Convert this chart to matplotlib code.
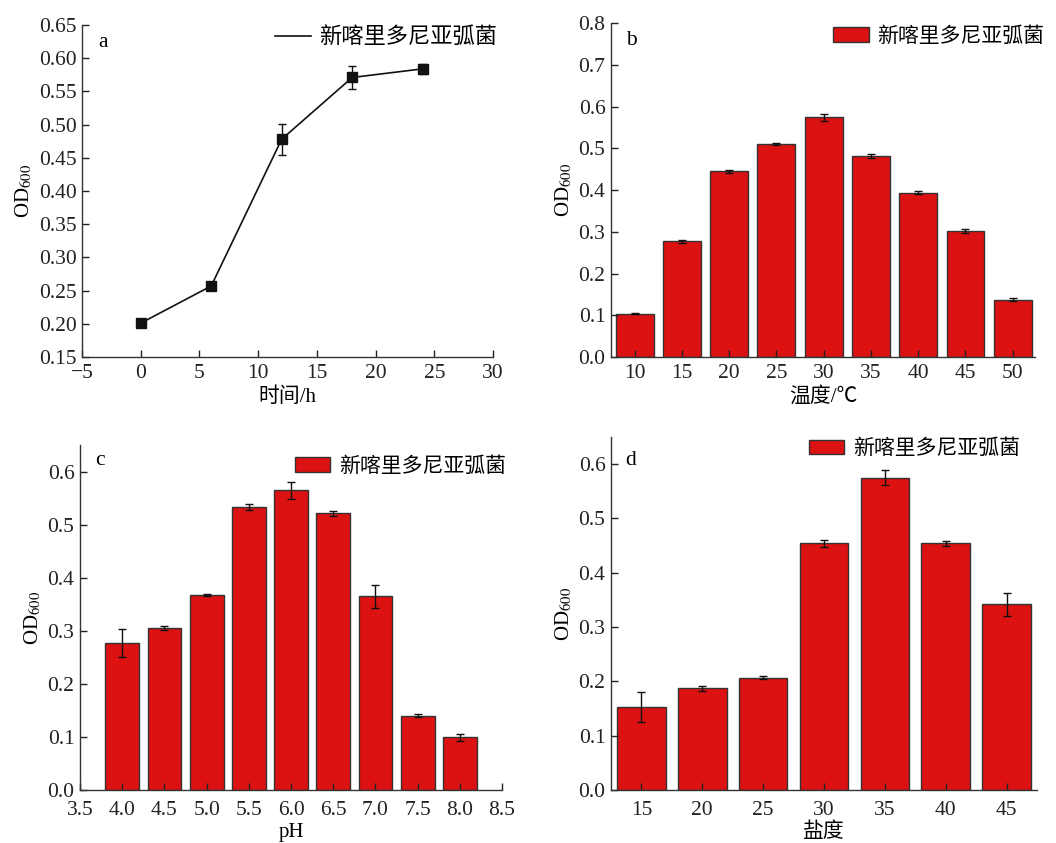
import matplotlib.pyplot as plt
import numpy as np

plt.rcParams['font.family'] = ['Liberation Serif', 'Noto Sans CJK SC']
plt.rcParams['mathtext.fontset'] = 'stix'
plt.rcParams['axes.unicode_minus'] = True

# Data
label = '新喀里多尼亚弧菌'

# a: growth curve
time_h = [0, 6, 12, 18, 24]
od_time = [0.201, 0.257, 0.478, 0.571, 0.584]
err_time = [0.005, 0.006, 0.023, 0.017, 0.008]

# b: temperature
temps = ['10', '15', '20', '25', '30', '35', '40', '45', '50']
od_temp = [0.104, 0.277, 0.445, 0.510, 0.574, 0.482, 0.394, 0.302, 0.137]
err_temp = [0.002, 0.003, 0.004, 0.003, 0.008, 0.005, 0.003, 0.005, 0.004]

# c: pH
ph = [4.0, 4.5, 5.0, 5.5, 6.0, 6.5, 7.0, 7.5, 8.0]
od_ph = [0.277, 0.305, 0.367, 0.533, 0.565, 0.521, 0.365, 0.140, 0.099]
err_ph = [0.026, 0.004, 0.002, 0.006, 0.016, 0.004, 0.022, 0.003, 0.006]

# d: salinity
salt = ['15', '20', '25', '30', '35', '40', '45']
od_salt = [0.153, 0.187, 0.207, 0.454, 0.575, 0.454, 0.342]
err_salt = [0.027, 0.004, 0.002, 0.007, 0.014, 0.004, 0.021]

bar_color = '#DC1111'
edge_color = '#333333'
fs_tick = 15.5
fs_lab = 15
fs_leg = 15
ylab = r'OD$_{\mathrm{600}}$'

fig = plt.figure(figsize=(10.56, 8.43), dpi=100)
ax_a = fig.add_axes([0.0777, 0.5765, 0.3892, 0.3938])
ax_b = fig.add_axes([0.5786, 0.5765, 0.4014, 0.3962])
ax_c = fig.add_axes([0.0758, 0.0629, 0.3996, 0.4092])
ax_d = fig.add_axes([0.5786, 0.0629, 0.4034, 0.4187])


def style(ax, xpad):
    for s in ['top', 'right']:
        ax.spines[s].set_visible(False)
    for s in ['left', 'bottom']:
        ax.spines[s].set_linewidth(1.0)
        ax.spines[s].set_color('#333333')
    ax.tick_params(direction='in', length=5, width=1, labelsize=fs_tick, colors='#222222')
    ax.tick_params(axis='y', pad=4)
    ax.tick_params(axis='x', pad=xpad)


def place_legend(ax, handles, x, y, size, hl):
    ax.legend(handles, [label], loc='center left', bbox_to_anchor=(x, y),
              bbox_transform=fig.transFigure, frameon=False, borderpad=0,
              borderaxespad=0, handlelength=hl, handletextpad=0.4, fontsize=size)


# a
ax_a.errorbar(time_h, od_time, yerr=err_time, color='#111111', lw=1.2, marker='s',
              markersize=6.5, capsize=3, elinewidth=1)
ax_a.set_xlim(-5, 30)
ax_a.set_ylim(0.15, 0.65)
ax_a.set_xticks(np.arange(-5, 31, 5))
ax_a.set_yticks(np.arange(0.15, 0.651, 0.05))
ax_a.yaxis.set_major_formatter(plt.FormatStrFormatter('%.2f'))
ax_a.set_xlabel('时间/h', fontsize=fs_lab, labelpad=3)
ax_a.set_ylabel(ylab, fontsize=fs_lab, labelpad=3)
style(ax_a, 5)
place_legend(ax_a, [plt.Line2D([], [], color='#111111', lw=1.2)], 0.2604, 0.955, 16, 1.6)
fig.text(0.0975, 0.950, 'a', fontsize=fs_tick, va='center', ha='center')

# b
xb = np.arange(len(temps))
bars_b = ax_b.bar(xb, od_temp, width=0.8, color=bar_color, edgecolor=edge_color, lw=1.0,
                  yerr=err_temp, capsize=3, error_kw=dict(elinewidth=1, ecolor='#111111'))
ax_b.set_xlim(-0.5, 8.47)
ax_b.set_ylim(0, 0.8)
ax_b.set_xticks(xb)
ax_b.set_xticklabels(temps)
ax_b.set_yticks(np.arange(0, 0.81, 0.1))
ax_b.yaxis.set_major_formatter(plt.FormatStrFormatter('%.1f'))
ax_b.set_xlabel('温度/℃', fontsize=fs_lab, labelpad=3)
ax_b.set_ylabel(ylab, fontsize=fs_lab, labelpad=3)
style(ax_b, 5)
place_legend(ax_b, [bars_b.patches[0]], 0.789, 0.956, fs_leg, 1.7)
fig.text(0.598, 0.952, 'b', fontsize=fs_tick, va='center', ha='center')

# c
bars_c = ax_c.bar(ph, od_ph, width=0.4, color=bar_color, edgecolor=edge_color, lw=1.0,
                  yerr=err_ph, capsize=3, error_kw=dict(elinewidth=1, ecolor='#111111'))
ax_c.set_xlim(3.5, 8.5)
ax_c.set_ylim(0, 0.65)
ax_c.set_xticks(np.arange(3.5, 8.51, 0.5))
ax_c.set_yticks(np.arange(0, 0.61, 0.1))
ax_c.xaxis.set_major_formatter(plt.FormatStrFormatter('%.1f'))
ax_c.yaxis.set_major_formatter(plt.FormatStrFormatter('%.1f'))
ax_c.set_xlabel('pH', fontsize=fs_lab, labelpad=2)
ax_c.set_ylabel(ylab, fontsize=fs_lab, labelpad=3)
style(ax_c, 8)
place_legend(ax_c, [bars_c.patches[0]], 0.2794, 0.446, fs_leg, 1.7)
fig.text(0.0947, 0.454, 'c', fontsize=fs_tick, va='center', ha='center')

# d
xd = np.arange(len(salt))
bars_d = ax_d.bar(xd, od_salt, width=0.8, color=bar_color, edgecolor=edge_color, lw=1.0,
                  yerr=err_salt, capsize=3, error_kw=dict(elinewidth=1, ecolor='#111111'))
ax_d.set_xlim(-0.5, 6.5)
ax_d.set_ylim(0, 0.65)
ax_d.set_xticks(xd)
ax_d.set_xticklabels(salt)
ax_d.set_yticks(np.arange(0, 0.61, 0.1))
ax_d.yaxis.set_major_formatter(plt.FormatStrFormatter('%.1f'))
ax_d.set_xlabel('盐度', fontsize=fs_lab, labelpad=2)
ax_d.set_ylabel(ylab, fontsize=fs_lab, labelpad=3)
style(ax_d, 8)
place_legend(ax_d, [bars_d.patches[0]], 0.766, 0.467, fs_leg, 1.7)
fig.text(0.597, 0.454, 'd', fontsize=fs_tick, va='center', ha='center')

fig.savefig('out.png', dpi=100)
